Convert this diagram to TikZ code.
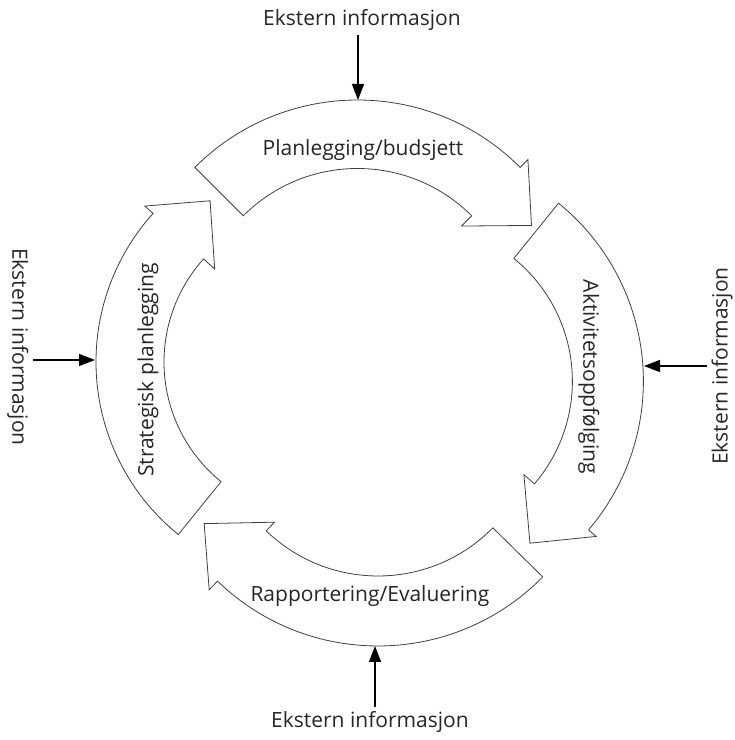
\documentclass[tikz,border=0pt]{standalone}
\usepackage{fontspec}
\setmainfont{Open Sans}
\usetikzlibrary{arrows.meta}

\begin{document}
\begin{tikzpicture}[x=1pt,y=1pt,
  bloco/.style={draw=black!75,fill=white,line width=0.8pt,line join=miter},
  rotulo/.style={font=\fontsize{21}{24}\selectfont,text=black!85,inner sep=0pt},
  externo/.style={font=\fontsize{21}{24}\selectfont,text=black!85,inner sep=4pt},
  seta/.style={-{Triangle[length=16pt,width=12pt]},line width=1.3pt}
]
\useasboundingbox (0,0) rectangle (735,740);

% ring arrows, clockwise
\begin{scope}[shift={(357.5,410)}]
\draw[bloco] (135:230) arc[start angle=135,end angle=45,radius=230pt]
  -- (45:241) -- (31:203) -- (45:147) -- (45:161.5)
  arc[start angle=45,end angle=135,radius=161.5pt] -- cycle;
\end{scope}
\begin{scope}[shift={(414.4,358.8)}]
\draw[bloco] (51:229) arc[start angle=51,end angle=-40.5,radius=229pt]
  -- (-40.5:239) -- (-54.5:199) -- (-40.5:144) -- (-40.5:158)
  arc[start angle=-40.5,end angle=51,radius=158pt] -- cycle;
\end{scope}
\begin{scope}[shift={(378,325)}]
\draw[bloco] (-44.5:231) arc[start angle=-44.5,end angle=-134,radius=231pt]
  -- (-134:243) -- (-148:205) -- (-134:149) -- (-134:161)
  arc[start angle=-134,end angle=-44.5,radius=161pt] -- cycle;
\end{scope}
\begin{scope}[shift={(318,378)}]
\draw[bloco] (231:222) arc[start angle=231,end angle=138,radius=222pt]
  -- (138:233) -- (123.8:194) -- (138:139) -- (138:154)
  arc[start angle=138,end angle=231,radius=154pt] -- cycle;
\end{scope}

\node[rotulo] (plan) at (363,590) {Planlegging/budsjett};
\node[rotulo,rotate=-90] (aktiv) at (589,363) {Aktivitetsoppfølging};
\node[rotulo] (rapport) at (370,144) {Rapportering/Evaluering};
\node[rotulo,rotate=90] (strat) at (148,370) {Strategisk planlegging};

% external information
\node[externo] (etop) at (362,720) {Ekstern informasjon};
\node[externo,rotate=-90] (eleft) at (18,393) {Ekstern informasjon};
\node[externo,rotate=90] (eright) at (722,374) {Ekstern informasjon};
\node[externo] (ebot) at (370,18) {Ekstern informasjon};

\coordinate (ptop) at (358,640);
\coordinate (pleft) at (95,380);
\coordinate (pright) at (644,374);
\coordinate (pbot) at (375,94);

\draw[seta] (etop.south -| ptop)--(ptop);
\draw[seta] (eleft.north |- pleft)--(pleft);
\draw[seta] (eright.north |- pright)--(pright);
\draw[seta] (ebot.north -| pbot)--(pbot);
\end{tikzpicture}
\end{document}
